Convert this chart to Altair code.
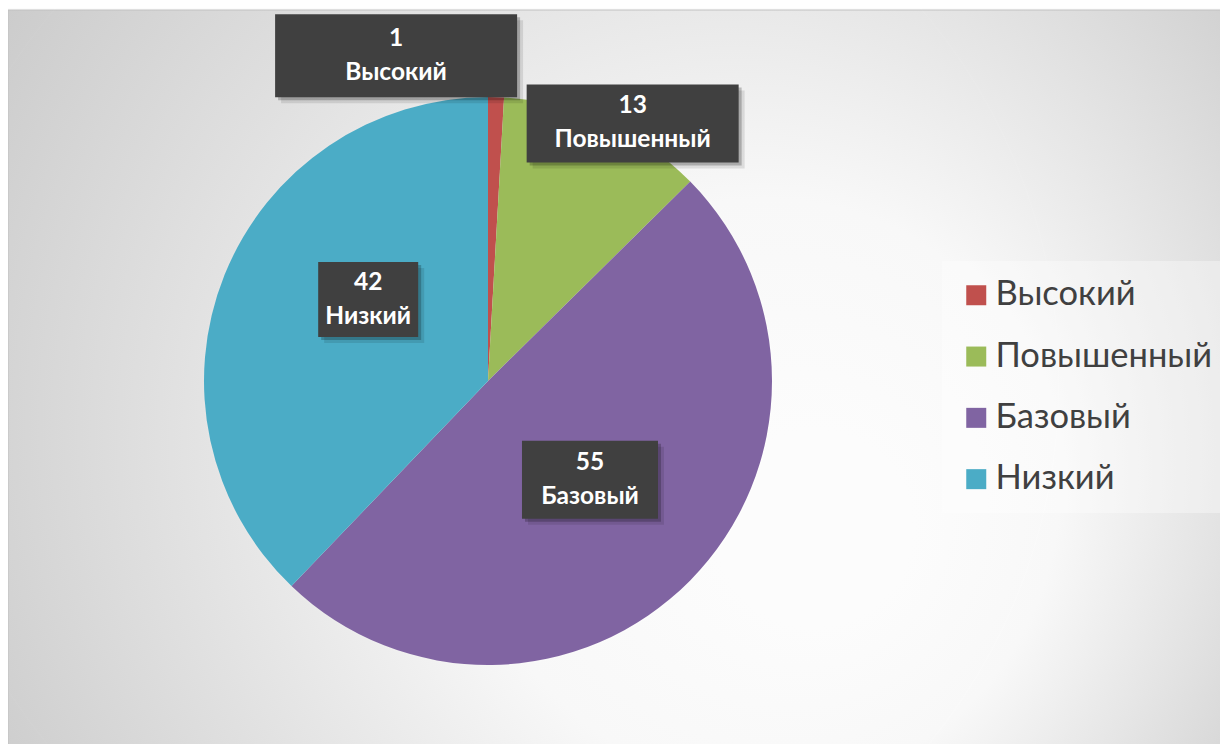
import math
import altair as alt
import pandas as pd

# ---- data ----
categories = ["Высокий", "Повышенный", "Базовый", "Низкий"]
values = [1, 13, 55, 42]
colors = ["#C0504D", "#9BBB59", "#8064A2", "#4BACC6"]

# ---- layout ----
W, H = 1212, 736
CX, CY, R = 480, 373, 284
# Excel "best fit" label placement: angular nudge from slice mid-angle (deg), radius fraction
label_nudge = [-17.4, 5.0, -0.5, 12.3]
label_rfrac = [1.19, 1.04, 0.50, 0.51]
box_w = [242, 212, 136, 100]
box_h = [83, 78, 78, 75]

total = sum(values)
rows = []
cum = 0
for i, (c, v) in enumerate(zip(categories, values)):
    mid = (cum + v / 2) / total * 360
    cum += v
    ang = math.radians(mid + label_nudge[i])
    r = label_rfrac[i] * R
    cx = CX + r * math.sin(ang)
    cy = CY - r * math.cos(ang)
    rows.append(dict(category=c, value=v, idx=i, label=f"{v}\n{c}",
                     cx=cx, cy=cy,
                     x0=cx - box_w[i] / 2, x1=cx + box_w[i] / 2,
                     y0=cy - box_h[i] / 2, y1=cy + box_h[i] / 2))
df = pd.DataFrame(rows)
for s in (3, 6):
    df[f"sx0_{s}"] = df["x0"] + s
    df[f"sx1_{s}"] = df["x1"] + s
    df[f"sy0_{s}"] = df["y0"] + s
    df[f"sy1_{s}"] = df["y1"] + s

xs = alt.Scale(domain=[0, W], nice=False, zero=False)
ys = alt.Scale(domain=[0, H], nice=False, zero=False, reverse=True)

bg = alt.Chart(pd.DataFrame({"a": [0]})).mark_rect(
    fill=alt.RadialGradient(
        gradient="radial",
        stops=[alt.GradientStop(color="#ffffff", offset=0),
               alt.GradientStop(color="#fbfbfb", offset=0.25),
               alt.GradientStop(color="#c3c3c3", offset=1)],
        x1=0.66, y1=0.62, r1=0.08, x2=0.5, y2=0.5, r2=0.72),
    stroke="#c4c4c4", strokeWidth=1,
).encode(x=alt.value(0), x2=alt.value(W + 10), y=alt.value(2), y2=alt.value(H + 10))

halo = alt.Chart(pd.DataFrame({"r": [R + k for k in range(1, 11)]})).mark_arc(
    theta=0, theta2=2 * math.pi, color="#000000", opacity=0.012
).encode(radius=alt.Radius("r:Q", scale=None), x=alt.value(CX), y=alt.value(CY))

arcs = alt.Chart(df).mark_arc(outerRadius=R).encode(
    theta=alt.Theta("value:Q", stack=True),
    order=alt.Order("idx:Q"),
    color=alt.Color(
        "category:N",
        scale=alt.Scale(domain=categories, range=colors),
        legend=alt.Legend(
            orient="none", legendX=934, legendY=253, title=None,
            symbolType="square", symbolSize=400, symbolStrokeWidth=0,
            labelFont="Lato", labelFontSize=34.5, labelColor="#404040",
            labelOffset=2, rowPadding=26.3, padding=17,
            fillColor="rgba(255,255,255,0.35)", labelLimit=400,
        ),
    ),
    x=alt.value(CX), y=alt.value(CY),
)

def rect_layer(px0, px1, py0, py1, color, opacity):
    return alt.Chart(df).mark_rect(color=color, opacity=opacity).encode(
        x=alt.X(f"{px0}:Q", scale=xs, axis=None), x2=f"{px1}:Q",
        y=alt.Y(f"{py0}:Q", scale=ys, axis=None), y2=f"{py1}:Q",
    )

shadow1 = rect_layer("sx0_6", "sx1_6", "sy0_6", "sy1_6", "#000000", 0.10)
shadow2 = rect_layer("sx0_3", "sx1_3", "sy0_3", "sy1_3", "#000000", 0.22)
boxes = rect_layer("x0", "x1", "y0", "y1", "#404040", 1)

texts = alt.Chart(df).mark_text(
    font="Lato", fontWeight="bold", fontSize=24.5, color="#ffffff",
    lineBreak="\n", lineHeight=34, align="center", baseline="middle", dy=-17,
).encode(
    x=alt.X("cx:Q", scale=xs, axis=None),
    y=alt.Y("cy:Q", scale=ys, axis=None),
    text="label:N",
)

chart = alt.layer(bg, halo, arcs, shadow2, shadow1, boxes, texts).properties(
    width=W, height=H,
    autosize=alt.AutoSizeParams(type="none"),
    padding=0, background="#ffffff",
).configure_view(stroke=None)

chart.save("out.html", embed_options={"renderer": "svg", "actions": False})
